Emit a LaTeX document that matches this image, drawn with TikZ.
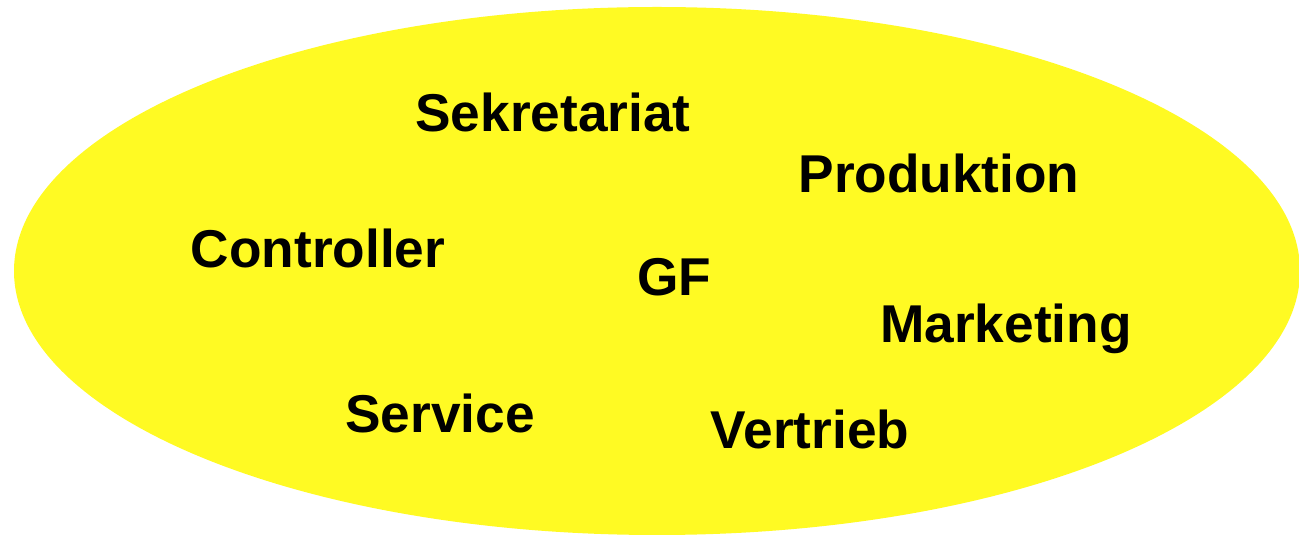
\documentclass[tikz,border=0pt]{standalone}
\usepackage{fontspec}
\setmainfont{Liberation Sans}
\usepackage{xcolor}
\definecolor{fieldyellow}{RGB}{255,250,35}

\begin{document}
\begin{tikzpicture}[x=0.02cm, y=-0.02cm,
  dept/.style={anchor=base, inner sep=0pt, font=\fontsize{30.3}{31}\selectfont\bfseries}]

 \useasboundingbox (0,0) rectangle (1299,536);

 \fill [fieldyellow] (657,271) ellipse [x radius=643, y radius=264];


 \node [dept] (dept_1) at (553,132) 
     {Sekretariat};

 \node [dept] (dept_2) at (939,193) 
     {Produktion};

 \node [dept] (dept_3) at (318,268) 
     {Controller};

 \node [dept] (dept_4) at (674,296) 
     {GF};

 \node [dept] (dept_5) at (1006,343) 
     {Marketing};

 \node [dept] (dept_6) at (440,433) 
     {Service};

 \node [dept] (dept_7) at (810,449) 
     {Vertrieb};


 \end{tikzpicture}
\end{document}
